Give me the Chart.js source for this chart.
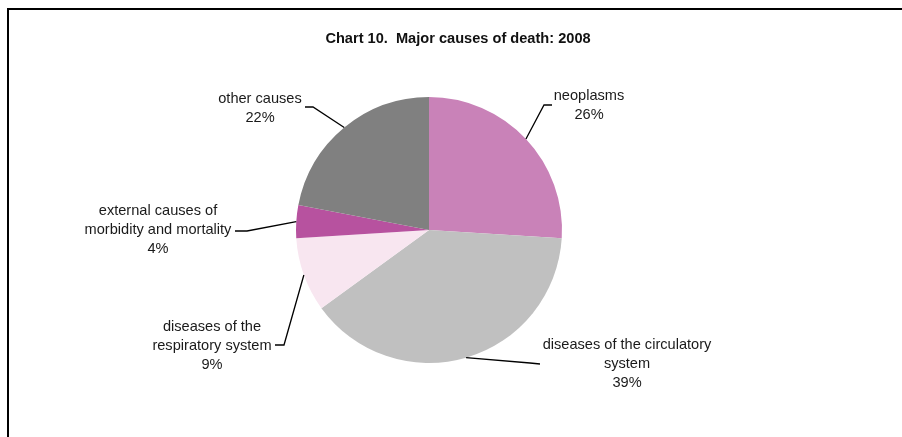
<!DOCTYPE html>
<html>
<head>
<meta charset="utf-8">
<script src="https://cdn.jsdelivr.net/npm/chart.js@4"></script>
<style>
  body { margin: 0; background: #fff; }
</style>
</head>
<body>
<canvas id="myChart" width="902" height="437"></canvas>
<script>
'use strict';

let chartTitle = 'Chart 10.  Major causes of death: 2008';
let causes = ['neoplasms', 'diseases of the circulatory system', 'diseases of the respiratory system',
    'external causes of morbidity and mortality', 'other causes'];
let shares = [26, 39, 9, 4, 22];
let sliceColors = ['#c982b8', '#c0c0c0', '#f8e6f0', '#b7529f', '#808080'];

// label text lines, where each block sits and where its leader line bends
let labelLines = [
    ['neoplasms'],
    ['diseases of the circulatory', 'system'],
    ['diseases of the', 'respiratory system'],
    ['external causes of', 'morbidity and mortality'],
    ['other causes']
];
let labelSpots = [
    { x: 589, y: 96, elbow: [544, 105], end: [552, 105] },
    { x: 627, y: 345, elbow: [530, 363], end: [540, 364] },
    { x: 212, y: 327, elbow: [284, 345], end: [275, 345] },
    { x: 158, y: 211, elbow: [247, 231], end: [235, 231] },
    { x: 260, y: 99, elbow: [313, 107], end: [305, 107] }
];

let labelPlugin = {
    id: 'labelPlugin',
    afterDraw(chart) {
        let ctx = chart.ctx;
        ctx.save();

        // frame
        ctx.strokeStyle = '#000';
        ctx.lineWidth = 2;
        ctx.beginPath();
        ctx.moveTo(8, 437);
        ctx.lineTo(8, 9);
        ctx.lineTo(902, 9);
        ctx.stroke();

        // title
        ctx.fillStyle = '#111';
        ctx.font = 'bold 14.6px "Liberation Sans", Arial, sans-serif';
        ctx.textAlign = 'center';
        ctx.textBaseline = 'middle';
        ctx.fillText(chartTitle, 458, 39);

        let arcs = chart.getDatasetMeta(0).data;
        let total = shares.reduce((a, b) => a + b, 0);
        ctx.font = '14.6px "Liberation Sans", Arial, sans-serif';
        for (let i = 0; i < arcs.length; i++) {
            let arc = arcs[i];
            let mid = (arc.startAngle + arc.endAngle) / 2;
            let ex = arc.x + Math.cos(mid) * arc.outerRadius;
            let ey = arc.y + Math.sin(mid) * arc.outerRadius;
            let spot = labelSpots[i];

            ctx.strokeStyle = '#000';
            ctx.lineWidth = 1.3;
            ctx.beginPath();
            ctx.moveTo(ex, ey);
            ctx.lineTo(spot.elbow[0], spot.elbow[1]);
            ctx.lineTo(spot.end[0], spot.end[1]);
            ctx.stroke();

            let lines = labelLines[i].concat([Math.round(shares[i] / total * 100) + '%']);
            ctx.fillStyle = '#1a1a1a';
            for (let j = 0; j < lines.length; j++) {
                ctx.fillText(lines[j], spot.x, spot.y + j * 19);
            }
        }
        ctx.restore();
    }
};

let ctx = document.getElementById('myChart').getContext('2d');
let chart = new Chart(ctx, {
    type: 'pie',
    data: {
        labels: causes,
        datasets: [{
            data: shares,
            backgroundColor: sliceColors,
            borderWidth: 0,
            hoverOffset: 0,
            offset: 0
        }]
    },
    options: {
        responsive: false,
        animation: false,
        events: [],
        layout: {
            padding: { left: 296, right: 340, top: 97, bottom: 74 }
        },
        plugins: {
            legend: { display: false },
            title: { display: false },
            tooltip: { enabled: false }
        }
    },
    plugins: [labelPlugin]
});
</script>
</body>
</html>
